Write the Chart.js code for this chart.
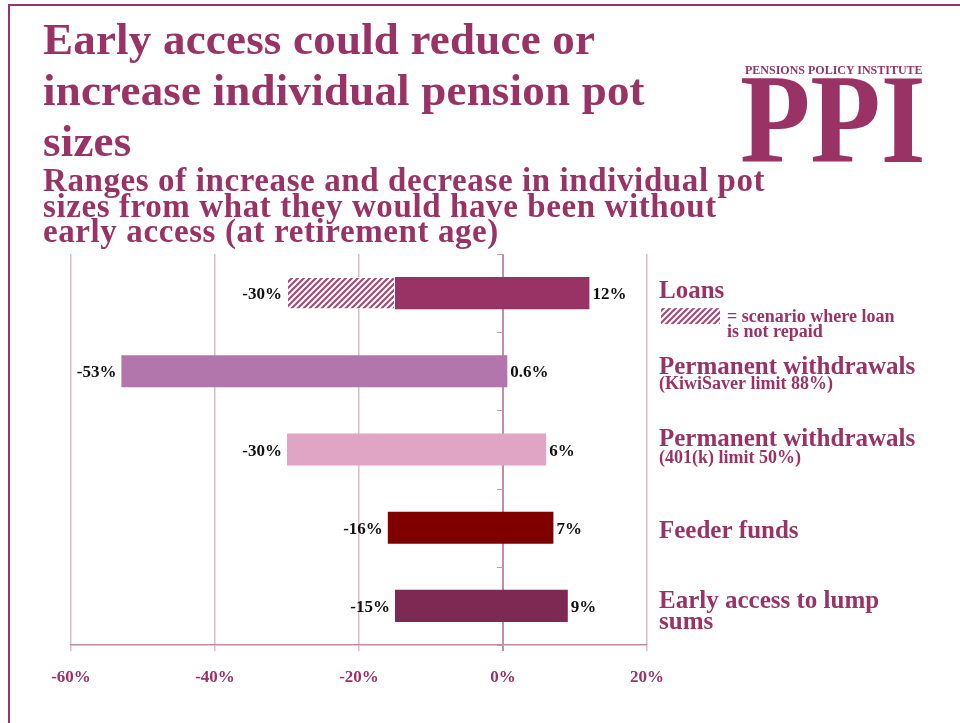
<!DOCTYPE html>
<html>
<head>
<meta charset="utf-8">
<script src="https://cdn.jsdelivr.net/npm/chart.js@4.4.1/dist/chart.umd.min.js"></script>
<style>
  html, body { margin: 0; padding: 0; background: #ffffff; }
  #wrap { position: relative; width: 960px; height: 723px; overflow: hidden; font-family: "Liberation Serif", serif; color: #993366; }
  #c { position: absolute; left: 0; top: 0; }
  .frame-top { position: absolute; left: 8px; top: 4px; width: 952px; height: 2px; background: #9E2F6B; }
  .frame-left { position: absolute; left: 8px; top: 4px; width: 2px; height: 719px; background: #9E2F6B; }
  .title { position: absolute; left: 43px; top: 14px; font-weight: bold; font-size: 45px; line-height: 51px; white-space: nowrap; letter-spacing: 0.2px; }
  .subtitle { position: absolute; left: 43px; top: 168px; font-weight: bold; font-size: 33px; line-height: 25.5px; white-space: nowrap; letter-spacing: 0.6px; }
  .logo-small { position: absolute; left: 745px; top: 64px; font-weight: bold; font-size: 12px; line-height: 12px; white-space: nowrap; }
  .logo-big { position: absolute; left: 740px; top: 55px; font-weight: bold; font-size: 128px; line-height: 128px; white-space: nowrap; transform: scaleX(0.9); transform-origin: left top; }
</style>
</head>
<body>
<div id="wrap">
  <canvas id="c" width="960" height="723"></canvas>
  <div class="frame-top"></div>
  <div class="frame-left"></div>
  <div class="title">Early access could reduce or<br>increase individual pension pot<br>sizes</div>
  <div class="subtitle">Ranges of increase and decrease in individual pot<br>sizes from what they would have been without<br>early access (at retirement age)</div>
  <div class="logo-small">PENSIONS POLICY INSTITUTE</div>
  <div class="logo-big">PPI</div>
</div>
<script>
// ---- data ----
const categories = ['Loans', 'Permanent withdrawals (KiwiSaver limit 88%)', 'Permanent withdrawals (401(k) limit 50%)', 'Feeder funds', 'Early access to lump sums'];
const labelMainLines = [['Loans'], ['Permanent withdrawals'], ['Permanent withdrawals'], ['Feeder funds'], ['Early access to lump', 'sums']];
const labelNotes = ['', '(KiwiSaver limit 88%)', '(401(k) limit 50%)', '', ''];
const rangeStart = [-15, -53, -30, -16, -15];
const rangeEnd = [12, 0.6, 6, 7, 9];
const notRepaidStart = [-30, null, null, null, null];
const notRepaidEnd = [-15, null, null, null, null];
const barColors = ['#993366', '#B376AC', '#E0A4C4', '#800000', '#7D2953'];
const xTickValues = [-60, -40, -20, 0, 20];
const xTickLabels = ['-60%', '-40%', '-20%', '0%', '20%'];
const legendNoteLines = ['= scenario where loan', 'is not repaid'];

// ---- styles ----
const TXT = '#993366';
const FONT = 'Liberation Serif';

function makeHatch(color) {
  const s = 6;
  const c = document.createElement('canvas');
  c.width = s; c.height = s;
  const g = c.getContext('2d');
  g.fillStyle = '#ffffff';
  g.fillRect(0, 0, s, s);
  g.strokeStyle = color;
  g.lineWidth = 2.2;
  g.beginPath();
  g.moveTo(-1, s + 1); g.lineTo(s + 1, -1);
  g.moveTo(-s / 2 - 1, s / 2 + 1); g.lineTo(s / 2 + 1, -s / 2 - 1);
  g.moveTo(s / 2 - 1, s * 1.5 + 1); g.lineTo(s * 1.5 + 1, s / 2 - 1);
  g.stroke();
  return g.createPattern(c, 'repeat');
}
const hatch = makeHatch('#A8497A');

const fmt = v => v + '%';

const annotPlugin = {
  id: 'annot',
  afterDatasetsDraw(chart) {
    const ctx = chart.ctx;
    const xs = chart.scales.x, ys = chart.scales.y;
    const area = chart.chartArea;
    const x0 = xs.getPixelForValue(0);
    ctx.save();
    // small category ticks on the zero line
    ctx.strokeStyle = '#C890AC';
    ctx.lineWidth = 1;
    for (let i = 0; i <= categories.length; i++) {
      let y;
      if (i === 0) y = area.top;
      else if (i === categories.length) y = area.bottom;
      else y = (ys.getPixelForValue(i - 1) + ys.getPixelForValue(i)) / 2;
      ctx.beginPath();
      ctx.moveTo(x0 - 6, Math.round(y) + 0.5);
      ctx.lineTo(x0, Math.round(y) + 0.5);
      ctx.stroke();
    }
    // value labels
    ctx.fillStyle = '#111111';
    ctx.font = 'bold 17px "' + FONT + '"';
    ctx.textBaseline = 'alphabetic';
    for (let i = 0; i < categories.length; i++) {
      const c = ys.getPixelForValue(i);
      const lo = notRepaidStart[i] !== null ? Math.min(notRepaidStart[i], rangeStart[i]) : rangeStart[i];
      const hi = rangeEnd[i];
      ctx.textAlign = 'right';
      ctx.fillText(fmt(lo), xs.getPixelForValue(lo) - 5, c + 6);
      ctx.textAlign = 'left';
      ctx.fillText(fmt(hi), xs.getPixelForValue(hi) + 3, c + 6);
    }
    // category labels on the right
    const lx = area.right + 12;
    const mainOff = [[5], [2.5], [-3.5], [10.3], [2, 23]];
    const noteOff = [0, 18, 13.5, 0, 0];
    ctx.fillStyle = TXT;
    ctx.textAlign = 'left';
    for (let i = 0; i < categories.length; i++) {
      const c = ys.getPixelForValue(i);
      ctx.font = 'bold 25px "' + FONT + '"';
      labelMainLines[i].forEach((t, k) => ctx.fillText(t, lx, c + mainOff[i][k]));
      if (labelNotes[i]) {
        ctx.font = 'bold 18px "' + FONT + '"';
        ctx.fillText(labelNotes[i], lx, c + noteOff[i]);
      }
    }
    // legend for hatched bar
    const cL = ys.getPixelForValue(0);
    ctx.fillStyle = hatch;
    ctx.fillRect(lx + 2, cL + 15, 59, 16);
    ctx.fillStyle = TXT;
    ctx.font = 'bold 18px "' + FONT + '"';
    ctx.fillText(legendNoteLines[0], lx + 68, cL + 29);
    ctx.fillText(legendNoteLines[1], lx + 68, cL + 44);
    ctx.restore();
  }
};

new Chart(document.getElementById('c'), {
  type: 'bar',
  data: {
    labels: categories,
    datasets: [
      {
        label: 'Range',
        data: rangeStart.map((s, i) => [s, rangeEnd[i]]),
        backgroundColor: barColors,
        borderWidth: 0,
        grouped: false,
        barPercentage: 0.41,
        categoryPercentage: 1.0,
        order: 1
      },
      {
        label: 'Loan not repaid',
        data: notRepaidStart.map((s, i) => s === null ? null : [s, notRepaidEnd[i]]),
        backgroundColor: hatch,
        borderColor: '#ffffff',
        borderWidth: 1,
        borderSkipped: false,
        grouped: false,
        barPercentage: 0.41,
        categoryPercentage: 1.0,
        order: 2
      }
    ]
  },
  options: {
    indexAxis: 'y',
    responsive: false,
    animation: false,
    devicePixelRatio: 1,
    layout: { padding: { left: 71, right: 313, top: 254, bottom: 19.6 } },
    plugins: { legend: { display: false }, tooltip: { enabled: false }, title: { display: false } },
    scales: {
      x: {
        type: 'linear',
        min: -60,
        max: 20,
        afterBuildTicks: (scale) => { scale.ticks = xTickValues.map(v => ({ value: v })); },
        ticks: {
          callback: (v) => xTickLabels[xTickValues.indexOf(v)],
          color: TXT,
          font: { family: FONT, weight: 'bold', size: 17 },
          padding: 16,
          maxRotation: 0
        },
        grid: {
          color: (ctx) => (ctx.tick && ctx.tick.value === 0) ? '#BF8FA8' : '#D9BCCA',
          lineWidth: (ctx) => (ctx.tick && ctx.tick.value === 0) ? 2 : 1.5,
          tickLength: 6,
          drawTicks: true
        },
        border: { display: true, color: '#C08CA6', width: 1.5 }
      },
      y: {
        display: false,
        offset: true
      }
    }
  },
  plugins: [annotPlugin]
});
</script>
</body>
</html>
